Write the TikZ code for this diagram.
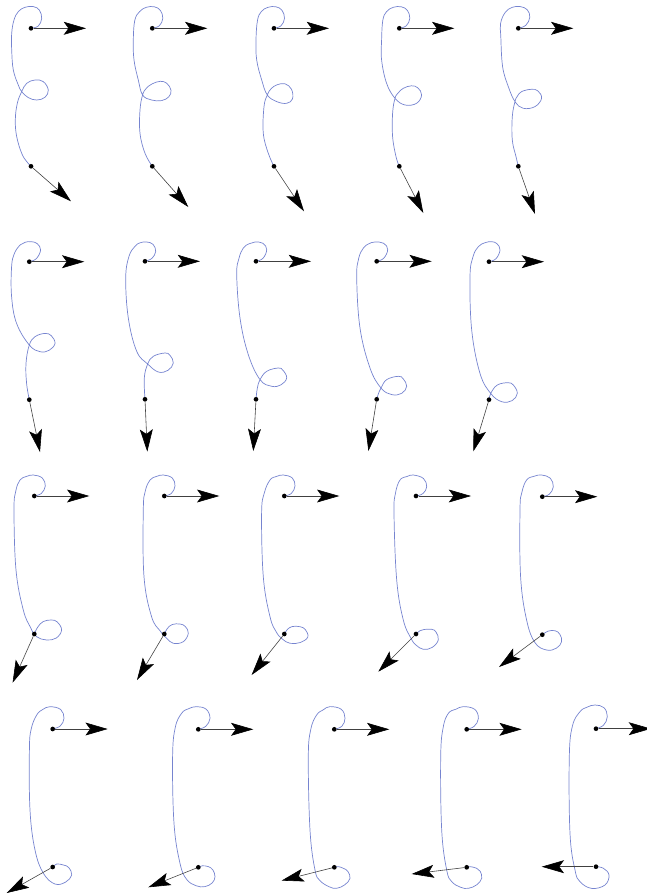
\documentclass[tikz,border=0pt]{standalone}
\usetikzlibrary{arrows.meta}

\definecolor{azulcurva}{RGB}{118,132,208}

% um quadro: ponto inicial em #1, nome #2, pontos da curva #3, vetor final #4
\newcommand{\quadro}[4]{%
    \begin{scope}[shift={(#1)}]
        \draw[curva] plot[smooth, tension=0.65] coordinates {#3};
        \node[ponto] (#2a) at (0,0) {};
        \node[ponto] (#2b) at (0,138) {};
        \coordinate (#2va) at (55,0);
        \path (#2b) ++(#4) coordinate (#2vb);
        \draw[vetor] (#2a) -- (#2va);
        \draw[vetor] (#2b) -- (#2vb);
    \end{scope}}

\begin{document}
\begin{tikzpicture}[x=0.03cm, y=-0.03cm,
        curva/.style={azulcurva, line width=0.6pt},
        ponto/.style={circle, fill=black, inner sep=0pt, minimum size=4pt},
        vetor/.style={black!75, line width=0.5pt,
            -{Stealth[length=19pt, width=11pt, inset=4pt, color=black]}}]
    \useasboundingbox (0,0) rectangle (647,894);

    % Linha 1
    \quadro{31,28.3}{q1}{(0,0) (7.3,-2.3) (10.7,-10) (8.3,-18.3) (2.3,-21.7) (-6,-21) (-12.7,-16.7) (-17,-8.3) (-19.3,5) (-19.3,21.7) (-17.7,41.7) (-12.7,56.7) (-9.3,63.3) (-2.7,69.3) (5.7,71.7) (14,69) (17.3,61.7) (12.3,53.3) (4,51.7) (-4.3,55) (-9.3,63.3) (-13.7,75) (-15.7,91.7) (-14.3,108.3) (-9.3,125) (-4.3,133.3) (0,138)}{40,35}
    \quadro{152.3,28.3}{q2}{(0,0) (7,-2.5) (10.5,-10) (8,-18) (2,-21.5) (-6,-21) (-12.7,-16.7) (-17.5,-8) (-19,11.7) (-18.3,31.7) (-14,51.7) (-9.7,66.7) (-0.7,71.7) (9.3,72.3) (16.5,68.5) (18.7,62) (14.5,55) (8,53) (0,55.5) (-6,60) (-9.7,66.7) (-12.3,81.7) (-12.3,105) (-7.3,125) (0,138)}{36,40.7}
    \quadro{274,28.3}{q3}{(0,0) (7,-2.5) (10.5,-10) (8,-18) (2,-21.5) (-6,-21) (-12.7,-16.7) (-16.5,-8) (-18,11.7) (-17.3,31.7) (-12.3,51.7) (-6.7,66.7) (2.7,73.3) (12.7,75) (18.5,70.5) (17.5,61) (11,55.5) (3,56.5) (-3,60.5) (-6.7,66.7) (-10,78.3) (-10.7,105) (-5.7,125) (0,138)}{30,45}
    \quadro{399.3,28.3}{q4}{(0,0) (7,-2.5) (10.5,-10) (8,-18) (2,-21.5) (-6,-21) (-12.7,-16.7) (-16.5,-8) (-17.7,11.7) (-17.7,31.7) (-12.7,55) (-4.3,70) (5.7,76.7) (17.3,75) (22.3,66.7) (18.5,59.5) (12,57.5) (4,60) (-1,64.5) (-4.3,70) (-6.7,85) (-6.7,108.3) (-3.3,128.3) (0,138)}{24,46.7}
    \quadro{518.3,28.3}{q5}{(0,0) (7.5,-3) (11.5,-11) (9,-18.5) (2,-21.7) (-6,-21) (-13,-16) (-17.7,-5) (-17.5,8.3) (-15.7,38.3) (-10,58.3) (-3.3,73.3) (5,80) (16.7,78.3) (23.3,70) (19.5,62.5) (13,61) (3.3,63.3) (-1,68) (-3.3,73.3) (-6,88.3) (-6,111.7) (-2.3,128.3) (0,138)}{16.7,47.7}

    % Linha 2
    \quadro{29.3,261.7}{q6}{(0,0) (7,-3) (11.3,-11.7) (8,-18) (2.3,-20) (-4,-19.5) (-9.3,-16.7) (-15,-8) (-17.7,5) (-17.7,35) (-12.7,61.7) (0,83.3) (10.7,90) (20,88.5) (25.7,81.7) (22,74) (15.7,71.7) (5.7,75) (0,83.3) (-3.3,101.7) (-2.7,121.7) (0,138)}{10.7,52.3}
    \quadro{145,261.3}{q7}{(0,0) (7,-3) (10.7,-10) (8,-17) (1.7,-19.3) (-5,-18.5) (-10,-15) (-16,-5) (-19.3,16.7) (-16.7,56.7) (-8.3,90) (2.7,102.7) (13.3,110.7) (23,109) (28.3,101.7) (25,94) (20,91.7) (8.3,95) (2.7,102.7) (-0.7,116.7) (0,138)}{2.3,52.3}
    \quadro{256,261.3}{q8}{(0,0) (7,-3) (10.7,-11.7) (7,-18) (-1,-19.3) (-7,-17.5) (-12.7,-13.3) (-17,-3) (-19.3,13.3) (-16,56.7) (-7.7,93.3) (4,118.3) (15.7,125) (25,123.5) (30.7,116.7) (27,109) (22.3,106.7) (10.7,110) (4,118.3) (1.3,127) (0,138)}{-2.7,51.7}
    \quadro{376.7,261.3}{q9}{(0,0) (7,-3) (11,-11.7) (7,-18) (-1.7,-19.3) (-8,-17.5) (-13.3,-13.3) (-18,-3) (-20,16.7) (-16.7,66.7) (-6.7,106.7) (4.3,126.7) (15,133.3) (25,132) (30,125) (26.5,117.5) (21.7,115) (10,118.3) (4.3,126.7) (1.5,133) (0,138)}{-8.3,51.7}
    \quadro{489,261.7}{q10}{(0,0) (7,-3) (11,-11.7) (8,-18) (2.7,-20) (-4,-19) (-10.7,-15) (-16,-5) (-19,15) (-17.3,68.3) (-9,111.7) (1.7,131.7) (12.7,140) (23,139) (28.3,131.7) (24.5,123.5) (19.3,121) (8.3,123.3) (1.7,131.7) (0,138)}{-15.7,51.7}

    % Linha 3
    \quadro{34.3,496}{q11}{(0,0) (7,-2.5) (11,-10) (8,-18) (-1,-21) (-8,-19.5) (-14.3,-16) (-18.5,-5) (-20.3,14) (-18.3,74) (-11,114) (-4,131) (2,140.5) (12.3,144) (22,142) (27.3,134) (23,126) (17.3,124) (9,125.5) (3.5,131) (0,138)}{-21.7,48.7}
    \quadro{164.3,496}{q12}{(0,0) (7,-2.5) (10.7,-10) (8,-18) (-1,-21) (-8,-19.5) (-14.3,-16) (-19,-5) (-21,14) (-20.3,80.7) (-12.7,120.7) (-4.3,134.7) (2,142) (9,147.3) (19,145.7) (24,137.3) (21,130.5) (15.7,128) (8,128.5) (3,132.5) (0,138)}{-27.3,46}
    \quadro{284.3,496}{q13}{(0,0) (7,-2.5) (10.7,-10) (8,-18) (-1,-21) (-8,-19.5) (-14.3,-16) (-20,-3) (-22.7,17.3) (-21,80.7) (-14.3,120.7) (-8,136) (-2,143) (5.7,147.3) (16,146.5) (23.5,141) (21,133.5) (15.7,130.7) (8,130.5) (3,133.5) (0,138)}{-32.7,41}
    \quadro{416,496}{q14}{(0,0) (7,-2.5) (10.7,-9.3) (7.5,-17.5) (-2.7,-21) (-9,-19.5) (-16,-16) (-20.5,-3) (-22,17.3) (-19.3,84) (-12.7,124) (-5,142.3) (0,149) (7.3,153.3) (16,151.5) (22.3,144) (20,136) (15.7,133.3) (8,133.5) (4,134.7) (0,138)}{-37.7,37.7}
    \quadro{542.3,496.7}{q15}{(0,0) (7,-2.5) (11,-10) (8,-18.5) (-0.7,-21.7) (-8,-20.5) (-15.7,-16.7) (-20.5,-4) (-22.3,13.3) (-21.7,80) (-15.7,123.3) (-7.3,146) (4.3,153.3) (14,151.5) (19.3,145) (17.5,137.5) (12.7,134) (5.5,134.5) (0,138)}{-43.3,32.3}

    % Linha 4
    \quadro{52.7,729}{q16}{(0,0) (7.5,-3) (11.3,-10.7) (8,-19.5) (-2.7,-22.3) (-10,-19.5) (-16,-14) (-21.5,0) (-23.3,21) (-22.7,81) (-17.7,121) (-9.3,144.3) (2.3,155) (13,153) (19,146) (16,138.5) (10.7,136) (4,135) (0,138)}{-46,26}
    \quadro{198.3,729.3}{q17}{(0,0) (7.5,-3) (11.7,-11) (8,-20) (-1.7,-22.7) (-10,-20.5) (-16.7,-16) (-23,-2) (-25.7,27.3) (-24.3,94) (-18.3,134) (-11.7,150) (-2,156.5) (6.7,157.3) (14,153.5) (16.7,147.3) (14.5,140.5) (10,137.3) (4,136.5) (0,138)}{-50,20}
    \quadro{334.3,729.3}{q18}{(0,0) (7.5,-3) (10.7,-11) (7,-20) (-4.3,-22.7) (-11,-19.5) (-17.7,-14.3) (-23.5,0) (-26,27.3) (-24.3,100.7) (-19.3,140.7) (-14.3,151.3) (-5,157.5) (2.3,159) (10.5,155.5) (15.7,149) (13.5,142) (9,139) (4,137.3) (0,138)}{-52.7,13.3}
    \quadro{466.7,729.3}{q19}{(0,0) (7.5,-3) (11.7,-11) (8,-20) (-3.3,-22.7) (-11,-20) (-18.3,-16) (-23.5,-2) (-26,27.3) (-25,100.7) (-20,140.7) (-15,152.3) (-6,158) (1.7,159) (10,155.5) (15,149) (13.5,142) (10,139) (3.3,137.3) (0,138)}{-55,6.7}
    \quadro{596,728.7}{q20}{(0,0) (7.5,-3.5) (11.3,-12) (8,-21) (-1,-23.7) (-9,-21.5) (-16,-17) (-23.5,-3) (-26.7,28) (-26,104.7) (-21,141.3) (-16,153) (-4.3,159.7) (9,156.3) (13,146.3) (7.3,139.5) (0,138)}{-54.3,0}
\end{tikzpicture}
\end{document}
